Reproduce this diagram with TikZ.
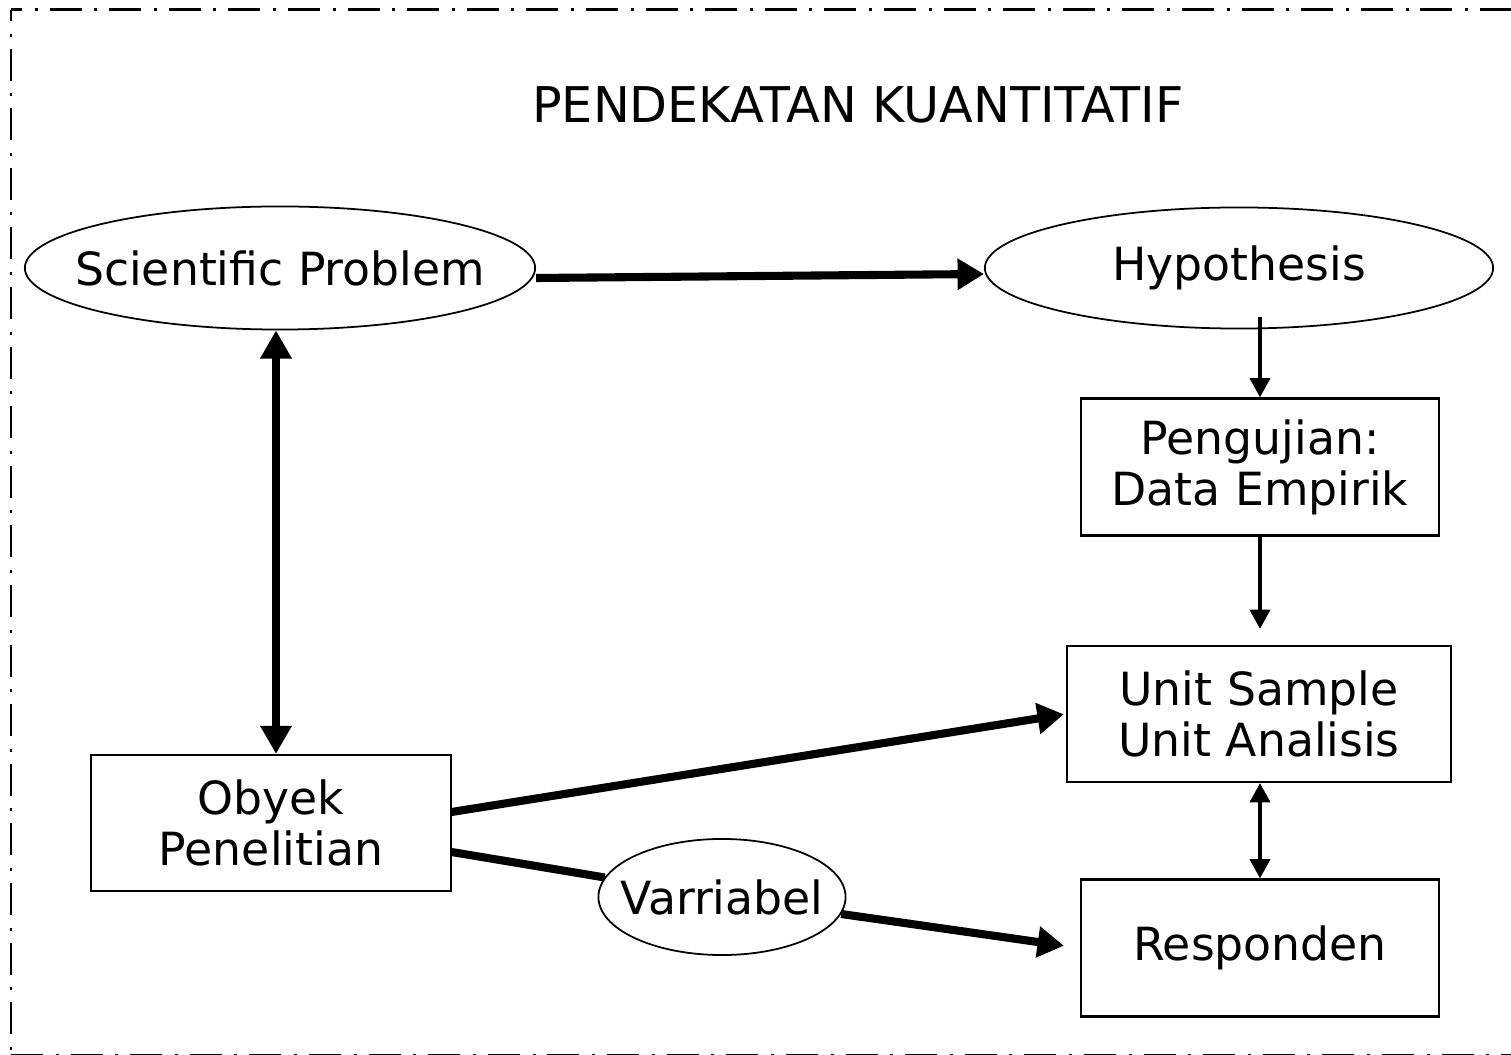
\documentclass[tikz,border=0pt]{standalone}
\usepackage{fontspec}
\setmainfont{DejaVu Sans}
\usetikzlibrary{shapes.geometric, arrows.meta}
\newcommand{\nodefont}{\fontsize{13}{14.5}\selectfont}
\newcommand{\ovaltext}[1]{\makebox[0pt]{#1}}
\tikzstyle{oval} = [ellipse, draw=black, line width=0.5pt, inner sep=0pt, text centered, font=\nodefont]
\tikzstyle{box} = [rectangle, draw=black, line width=0.6pt, inner sep=0pt, align=center, font=\nodefont]
\tikzstyle{arrow} = [line width=2.3pt, -{Triangle[length=7.5pt,width=8.5pt]}]
\tikzstyle{twoway} = [line width=2.5pt, {Triangle[length=8pt,width=8.5pt]}-{Triangle[length=8pt,width=8.5pt]}]
\tikzstyle{thinarrow} = [line width=1.1pt, -{Triangle[length=5.5pt,width=5.7pt]}]
\tikzstyle{thintwoway} = [line width=1.1pt, {Triangle[length=5.5pt,width=5.7pt]}-{Triangle[length=5.5pt,width=5.7pt]}]
\tikzstyle{line} = [line width=2.3pt]
\tikzstyle{border} = [line width=0.85pt, dash pattern=on 9.1pt off 3.6pt on 0.85pt off 3.4pt]

\begin{document}
\begin{tikzpicture}[x=0.01cm, y=-0.01cm]
\useasboundingbox (0,0) rectangle (1511,1055);
% frame
\draw [border, dash phase=6pt] (11,10) -- (1530,10);
\draw [border, dash phase=6pt] (11,10) -- (11,1056);
\draw [border] (11,1055) -- (1530,1055);
\node (title) at (858,105) {\fontsize{14}{16}\selectfont PENDEKATAN KUANTITATIF};
\node (sp) [oval, minimum width=5.1cm, minimum height=1.23cm] at (280,268) {\ovaltext{Scientific Problem}};
\node (hyp) [oval, minimum width=5.08cm, minimum height=1.21cm] at (1239,268) {\ovaltext{Hypothesis}};
\node (peng) [box, minimum width=3.58cm, minimum height=1.37cm] at (1260,467) {Pengujian:\\Data Empirik};
\node (unit) [box, minimum width=3.84cm, minimum height=1.36cm] at (1259,714) {Unit Sample\\Unit Analisis};
\node (resp) [box, minimum width=3.58cm, minimum height=1.37cm] at (1260,948) {Responden};
\node (ob) [box, minimum width=3.59cm, minimum height=1.36cm] at (271,823) {Obyek\\Penelitian};
\node (var) [oval, minimum width=2.47cm, minimum height=1.16cm] at (722,897) {\ovaltext{Varriabel}};
\draw [arrow] ([yshift=-0.1cm]sp.east) -- ([yshift=-0.06cm]hyp.west);
\draw [twoway] ([xshift=-0.04cm]sp.south) -- ([xshift=-0.04cm]sp.south |- ob.north);
\draw [thinarrow] ([yshift=0.12cm]peng.north |- hyp.south) -- (peng.north);
\draw [thinarrow, shorten >=0.16cm] (peng.south) -- (peng.south |- unit.north);
\draw [thintwoway] (resp.north |- unit.south) -- (resp.north);
\draw [arrow, shorten >=0.02cm] ([yshift=0.11cm]ob.east) -- (unit.west);
\draw [line] ([yshift=-0.29cm]ob.east) -- (var);
\draw [arrow, shorten >=0.16cm] (var) -- (resp.west);
\end{tikzpicture}
\end{document}
